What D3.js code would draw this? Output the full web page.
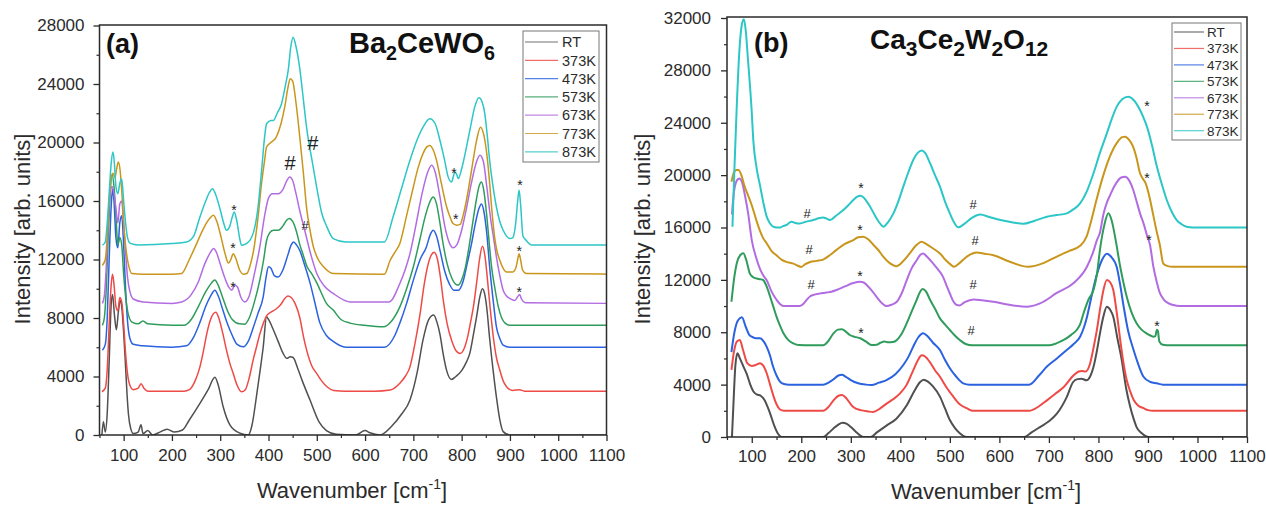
<!DOCTYPE html>
<html><head><meta charset="utf-8">
<script src="https://cdn.jsdelivr.net/npm/d3@7"></script>
<style>
body{margin:0;background:#fff}
svg{display:block}
text{font-family:"Liberation Sans",Arial,Helvetica,sans-serif}
</style>
</head><body>
<svg id="chart" width="1266" height="505"></svg>
<script>
// ---------- shared labels / ticks ----------
const seriesNames = ["RT","373K","473K","573K","673K","773K","873K"];
const seriesColors = ["#505050","#ee4a46","#2a62e0","#2f9c5c","#b26ce2","#c9961c","#2cc6c6"];
const xTicks = [100,200,300,400,500,600,700,800,900,1000,1100];
const xMinor = [50,150,250,350,450,550,650,750,850,950,1050];
const yTicksA = [0,4000,8000,12000,16000,20000,24000,28000];
const yMinorA = [2000,6000,10000,14000,18000,22000,26000];
const yTicksB = [0,4000,8000,12000,16000,20000,24000,28000,32000];
const yMinorB = [2000,6000,10000,14000,18000,22000,26000,30000];

// ---------- panel (a) Ba2CeWO6 : [wavenumber, intensity] ----------
const aRT = [[55,0],[58,900],[62,200],[66,1500],[70,5000],[74,8800],[77,9600],[81,8200],[85,7200],[89,8400],[93,9200],[96,8800],[100,7000],[103,5300],[107,2800],[110,1400],[115,400],[120,100],[130,200],[136,700],[140,100],[150,300],[160,0],[175,200],[190,400],[205,200],[222,340],[236,1025],[258,2160],[275,3100],[289,3950],[296,3400],[306,1950],[320,700],[341,120],[358,0],[366,700],[375,2620],[383,4500],[389,6000],[396,8080],[400,7900],[410,7200],[420,6400],[430,5600],[438,5240],[445,5350],[451,5300],[460,4600],[470,3700],[486,2390],[505,880],[520,300],[540,50],[580,0],[600,300],[610,150],[630,0],[655,600],[675,1400],[693,2390],[708,4300],[720,6500],[732,7900],[742,8200],[749,7700],[755,6900],[762,5500],[769,4400],[779,3800],[788,4000],[800,4400],[810,5000],[817,5600],[824,6800],[831,8100],[838,9500],[843,10000],[848,9600],[852,8700],[858,6600],[866,4200],[872,2600],[879,1050],[886,230],[900,0],[1100,0]];
const a373 = [[55,2960],[62,3200],[66,4500],[70,7500],[74,10200],[77,11000],[80,10300],[84,8800],[88,8500],[92,9400],[96,9100],[100,7600],[104,5600],[108,4200],[113,3400],[120,3100],[130,3200],[136,3500],[142,3200],[150,3000],[200,3000],[225,3000],[236,3100],[248,3700],[258,4660],[265,5700],[272,6900],[280,7900],[286,8300],[291,8400],[296,8100],[305,7000],[313,5800],[320,4900],[327,4200],[335,3400],[344,2950],[352,3100],[360,3900],[368,5100],[375,6000],[382,6900],[390,7700],[397,8200],[405,8400],[415,8600],[425,8900],[433,9300],[440,9500],[447,9400],[455,9000],[465,8000],[472,6800],[479,5800],[490,4700],[500,4200],[510,3700],[521,3300],[535,3050],[560,3000],[620,3000],[652,3080],[672,3540],[683,4000],[693,4660],[703,6200],[714,8300],[722,10200],[730,11600],[737,12300],[743,12500],[750,12000],[756,10800],[762,9200],[770,7600],[780,6400],[790,5700],[797,5580],[805,5900],[813,6800],[819,7800],[825,8900],[831,10400],[837,12000],[843,12900],[848,12300],[853,10800],[859,8700],[866,6600],[872,5300],[879,4440],[886,3700],[893,3300],[905,3050],[920,3100],[930,3000],[1100,3000]];
const a473 = [[56,5800],[62,6200],[66,8000],[70,12000],[74,15500],[77,16800],[80,16000],[84,13500],[88,12800],[92,14500],[96,15000],[100,13000],[104,10000],[108,7800],[113,6600],[120,6200],[140,6100],[200,6000],[230,6100],[245,6700],[258,7700],[270,8800],[280,9500],[289,9900],[296,9500],[305,8600],[315,7600],[325,6800],[335,6200],[348,6030],[358,6400],[368,7300],[378,8300],[389,9440],[395,10800],[400,11500],[405,11400],[412,10900],[420,10800],[430,11300],[440,12300],[447,13000],[452,13200],[458,13000],[465,12600],[475,11600],[486,10400],[495,9200],[506,7700],[520,6800],[534,6400],[560,6000],[640,6000],[660,6700],[672,7650],[686,9000],[700,10590],[714,12000],[727,12860],[735,13700],[741,14000],[748,13600],[756,12500],[765,11200],[775,10300],[784,9900],[793,9900],[803,10500],[812,11800],[820,13000],[828,14400],[836,15500],[841,15800],[846,15300],[852,13800],[858,11500],[866,9000],[872,7400],[879,6600],[886,6150],[900,6000],[1100,6000]];
const a573 = [[56,7500],[60,8000],[64,10000],[68,13500],[72,16500],[76,17800],[80,17000],[84,15000],[88,13000],[92,13500],[96,13000],[100,11000],[104,9500],[110,8200],[118,7700],[130,7600],[140,7800],[150,7600],[200,7500],[225,7500],[240,7900],[255,8800],[270,9800],[282,10400],[289,10600],[295,10300],[305,9400],[315,8500],[325,7900],[340,7600],[351,7580],[360,8000],[370,9000],[382,10590],[390,12000],[396,13300],[402,13800],[410,14000],[420,14000],[430,14300],[438,14700],[443,14800],[450,14600],[458,13900],[465,13000],[472,12300],[480,11500],[490,11000],[500,10400],[507,9900],[520,9000],[534,8540],[550,7900],[569,7650],[600,7500],[638,7400],[655,7800],[672,8760],[686,10000],[700,11500],[713,13300],[725,15000],[735,16000],[741,16270],[748,15800],[755,14500],[762,13000],[770,11700],[780,10700],[788,10300],[793,10250],[800,10600],[808,11500],[815,12800],[822,14300],[830,16000],[836,17000],[841,17300],[846,16700],[852,15000],[858,12800],[862,11500],[869,10000],[876,8760],[883,8000],[890,7650],[900,7500],[1100,7500]];
const a673 = [[56,9000],[60,9500],[64,11500],[68,14500],[72,16500],[76,17000],[80,16500],[84,15500],[88,14500],[92,15800],[96,16000],[100,14500],[104,12500],[108,10800],[113,9800],[120,9300],[140,9100],[200,9000],[220,9100],[240,9600],[255,10500],[268,11700],[280,12500],[286,12750],[292,12500],[300,11700],[310,10700],[318,10100],[324,9900],[330,10250],[336,10100],[343,9400],[351,9100],[360,9500],[370,10900],[382,12860],[392,15000],[400,16200],[408,16500],[420,16500],[430,16800],[438,17400],[444,17640],[450,17400],[457,16500],[465,15300],[475,14000],[488,12300],[500,11040],[515,10200],[534,9680],[569,9100],[650,9100],[672,10360],[683,11300],[693,12400],[705,14300],[718,16500],[730,18000],[738,18440],[745,18000],[755,16300],[765,14300],[775,13100],[782,12800],[790,13000],[800,14000],[810,15500],[820,17200],[830,18600],[838,19120],[845,18700],[852,17000],[860,14800],[866,13500],[872,12180],[879,10900],[886,9900],[893,9500],[900,9330],[910,9200],[916,9450],[920,9600],[924,9300],[932,9050],[1100,9000]];
const a773 = [[56,11600],[62,12000],[66,13500],[70,16000],[74,17500],[78,17900],[82,17600],[86,18300],[89,18660],[93,18000],[97,16200],[101,14000],[106,12400],[111,11500],[117,11040],[140,11000],[200,11000],[220,11050],[236,12000],[250,13000],[265,14100],[278,14800],[286,15020],[293,14600],[302,13500],[310,12400],[317,11760],[322,12000],[327,12400],[332,12100],[340,11300],[348,11000],[355,11040],[362,11600],[370,12800],[378,14800],[386,17300],[392,18800],[396,19690],[405,20000],[416,20370],[426,21300],[434,22500],[440,23700],[445,24360],[450,24200],[457,22700],[465,20300],[472,18000],[479,15500],[486,14000],[493,12860],[503,12000],[514,11500],[534,11040],[640,11000],[652,11950],[662,12500],[672,13100],[686,15000],[700,16960],[710,18300],[720,19240],[728,19700],[734,19800],[741,19500],[748,18780],[758,17200],[769,15590],[776,14900],[782,14460],[790,14350],[797,14400],[803,15000],[810,16050],[820,18000],[831,20150],[839,21050],[846,20500],[852,19240],[857,17600],[862,15590],[868,13600],[873,12600],[879,11950],[886,11400],[893,11150],[906,11150],[912,11400],[916,12000],[919,12400],[922,12000],[926,11300],[934,11040],[1100,11000]];
const a873 = [[56,12980],[62,13200],[66,14500],[70,16500],[74,18500],[78,19350],[81,18500],[84,17000],[88,16500],[92,17200],[96,17500],[100,16000],[104,14500],[108,13500],[114,13100],[130,13000],[200,13100],[230,13200],[245,13600],[258,14910],[270,16000],[278,16600],[284,16840],[290,16500],[300,15400],[308,14400],[313,14000],[320,14300],[325,14900],[329,15250],[334,14700],[340,13500],[344,12980],[355,13100],[368,13770],[378,15500],[386,18200],[392,20400],[396,21280],[405,21500],[410,21500],[418,22000],[427,22650],[435,23900],[441,24980],[446,26500],[451,27200],[456,26700],[465,25000],[472,23000],[479,21000],[490,18800],[500,16900],[510,15200],[521,14230],[534,13430],[560,13200],[640,13200],[658,14910],[675,16800],[693,18780],[708,20200],[720,21050],[734,21630],[745,21300],[755,20150],[764,18900],[772,17650],[779,17300],[783,17700],[786,17990],[790,17800],[793,17530],[800,18200],[810,19690],[818,21000],[827,22420],[836,23060],[842,22800],[848,21960],[853,20500],[858,18780],[865,17000],[872,15590],[879,14600],[886,14000],[893,13600],[900,13430],[906,13500],[912,14500],[916,16000],[919,16730],[922,15800],[927,13600],[934,13300],[945,13000],[1100,13000]];

// ---------- panel (b) Ca3Ce2W2O12 ----------
const bRT = [[60,0],[63,2500],[67,5500],[71,6390],[76,6000],[83,5400],[90,4800],[97,4000],[103,3500],[110,3250],[118,3150],[126,2800],[132,2300],[137,1810],[145,900],[153,250],[160,0],[244,0],[255,300],[265,650],[275,950],[283,1090],[292,1000],[302,700],[313,300],[325,0],[340,0],[352,330],[372,870],[392,1400],[413,2420],[428,3500],[440,4200],[447,4380],[455,4250],[465,3900],[480,3080],[490,2200],[500,1300],[510,700],[520,290],[534,0],[650,0],[665,350],[682,760],[700,1200],[716,1780],[736,3050],[749,4200],[758,4420],[766,4450],[776,4330],[783,4600],[790,5340],[797,6600],[803,7890],[810,9200],[817,9950],[824,9700],[830,9190],[838,7600],[847,5890],[856,3700],[864,2330],[871,1400],[877,760],[887,300],[897,50],[905,0],[1100,0]];
const b373 = [[59,5120],[64,6500],[70,7300],[76,7410],[82,6700],[91,5640],[100,5420],[108,5500],[117,5640],[124,5400],[130,4890],[137,4000],[144,3100],[150,2500],[157,2100],[165,2000],[244,2000],[255,2300],[265,2800],[275,3150],[282,3210],[290,3000],[298,2600],[305,2290],[320,2050],[335,1950],[345,1910],[358,2150],[372,2550],[386,2900],[399,3310],[413,4000],[426,5090],[436,5900],[443,6240],[450,6150],[460,5700],[470,5100],[480,4600],[493,3800],[507,3080],[520,2500],[534,2200],[545,2000],[660,2000],[680,2350],[696,2800],[713,3300],[730,3820],[750,4710],[760,5000],[766,5050],[774,5000],[783,5600],[790,6800],[797,8200],[804,9930],[810,11200],[817,11990],[824,11800],[830,11230],[837,9500],[844,7410],[850,5800],[857,4370],[864,3500],[871,2850],[880,2400],[891,2200],[900,2050],[910,2000],[1100,2000]];
const b473 = [[59,6490],[65,8000],[72,8900],[80,9140],[88,8400],[95,7800],[100,7660],[108,7550],[117,7540],[124,7300],[130,6900],[137,6200],[143,5380],[150,4700],[157,4230],[165,4050],[175,4000],[244,4000],[255,4150],[265,4400],[275,4700],[282,4750],[290,4600],[300,4350],[315,4100],[330,4000],[342,3970],[357,4150],[372,4350],[390,4800],[406,5500],[416,6100],[426,6900],[436,7600],[446,7920],[455,7700],[466,7200],[480,6640],[490,5900],[500,5250],[513,4600],[527,4100],[540,4000],[660,4000],[680,4700],[696,5380],[716,6000],[736,6640],[750,7100],[763,7660],[771,8400],[777,9190],[787,10900],[797,12440],[807,13500],[817,14000],[827,13700],[837,12990],[844,11600],[851,9950],[860,8100],[871,6640],[880,5600],[891,4600],[905,4200],[918,4100],[930,4000],[1100,4000]];
const b573 = [[59,10330],[64,12000],[70,13300],[77,13900],[83,14030],[89,13500],[96,12500],[103,12200],[110,12100],[117,12050],[123,11990],[130,11500],[137,10730],[144,9900],[150,9190],[157,8500],[164,7920],[174,7400],[184,7150],[195,7020],[220,7000],[244,7000],[255,7350],[265,7920],[274,8200],[282,8230],[290,8050],[298,7790],[308,7650],[319,7540],[330,7300],[342,7030],[352,7050],[360,7200],[368,7300],[375,7230],[385,7250],[393,7410],[403,7900],[413,8690],[423,9600],[433,10480],[440,11100],[445,11300],[452,11100],[460,10480],[470,9800],[480,9060],[490,8600],[500,8170],[510,7750],[520,7410],[532,7100],[545,7000],[700,7000],[715,7150],[730,7410],[745,7800],[756,8170],[763,8600],[770,9450],[780,10500],[790,11230],[797,12440],[804,14540],[812,16200],[820,17080],[827,16500],[835,15000],[844,13000],[851,11700],[857,10730],[867,9500],[877,8690],[887,8200],[897,7920],[905,7750],[911,7660],[915,7700],[918,8200],[920,8100],[923,7300],[930,7050],[945,7000],[1100,7000]];
const b673 = [[60,17000],[64,18700],[70,19600],[75,19750],[80,19500],[86,18500],[93,17000],[100,15040],[108,13800],[117,12800],[124,12300],[130,11990],[140,11100],[150,10480],[157,10150],[164,10000],[197,10000],[205,10200],[211,10480],[218,10750],[224,10840],[237,10950],[251,11030],[261,11100],[271,11230],[288,11500],[305,11760],[319,11860],[326,11800],[332,11610],[342,11200],[352,10710],[362,10250],[372,10000],[382,10100],[393,10330],[403,11000],[413,11990],[423,12900],[433,13500],[440,13900],[446,14020],[453,13800],[466,13260],[476,12800],[486,12250],[494,11500],[500,10960],[508,10300],[514,10080],[520,10050],[530,10300],[548,10510],[565,10450],[588,10330],[620,10100],[655,9950],[682,10200],[716,11000],[750,11760],[777,13020],[790,14200],[797,15040],[803,15600],[810,17000],[817,17900],[823,18420],[833,19200],[845,19800],[854,19880],[862,19600],[870,18900],[877,18000],[884,17080],[892,16200],[898,15400],[904,14700],[911,13000],[918,11800],[924,11000],[932,10500],[940,10250],[951,10080],[965,10000],[1100,10000]];
const b773 = [[59,19500],[64,20200],[69,20390],[73,20390],[79,20000],[85,19200],[90,18700],[100,17700],[110,16470],[117,15700],[123,15190],[130,14800],[140,14200],[150,13880],[160,13550],[170,13370],[184,13240],[192,13100],[200,12990],[208,13200],[218,13370],[231,13450],[244,13550],[258,13900],[271,14290],[288,14750],[305,15040],[315,15250],[325,15300],[335,15100],[345,14700],[355,14300],[365,13800],[378,13300],[392,13050],[405,13400],[419,14020],[431,14600],[443,14920],[452,14750],[466,14400],[480,14020],[492,13500],[503,13130],[508,13000],[520,13300],[535,13800],[554,14100],[570,14000],[588,13880],[620,13400],[658,13000],[690,13300],[716,13780],[740,14200],[763,14600],[776,15300],[786,16600],[796,18100],[810,20000],[823,21410],[838,22500],[848,22900],[854,22940],[862,22700],[870,22170],[877,21300],[884,20140],[890,19700],[895,19400],[902,18500],[910,17080],[917,15800],[924,14660],[931,13240],[940,13050],[950,13000],[1100,13000]];
const b873 = [[61,16060],[65,20500],[70,25540],[75,29500],[80,31500],[84,31900],[88,31000],[92,29000],[96,27030],[100,24800],[103,22710],[110,20500],[117,19140],[124,17800],[130,16850],[137,16300],[143,16060],[150,16000],[157,16000],[163,16100],[170,16190],[180,16440],[188,16350],[197,16310],[210,16450],[224,16570],[235,16700],[244,16770],[250,16700],[258,16570],[270,16900],[285,17330],[295,17700],[305,18100],[313,18350],[320,18430],[328,18200],[339,17590],[349,16900],[359,16310],[366,16060],[375,16400],[386,17080],[396,18000],[406,19120],[416,20200],[426,21160],[435,21700],[443,21880],[450,21700],[460,20910],[470,20000],[480,19120],[490,18000],[500,17080],[507,16500],[517,16010],[530,16300],[545,16750],[561,17000],[580,16800],[602,16570],[625,16400],[648,16280],[670,16500],[696,16820],[716,16950],[736,17080],[750,17400],[763,17840],[777,18800],[790,20140],[803,21700],[817,23190],[827,24300],[837,25230],[848,25800],[860,25990],[872,25700],[884,24970],[891,24400],[898,23700],[908,22300],[918,20650],[928,19300],[938,18100],[948,17200],[958,16570],[968,16250],[978,16060],[990,16000],[1100,16000]];

// ---------- band markers: [wavenumber, intensity, symbol, font size] ----------
const marksA = [[328.5,15024,"*",14],[326.5,12429,"*",14],[326.5,9765,"*",14],[784,17550,"*",14],[788,14409,"*",14],[921,16731,"*",14],[919,12224,"*",14],[919,9424,"*",14],[444.5,18097,"#",20],[492,19463,"#",20],[475.6,14034,"#",13]];
const marksB = [[320.6,18634,"*",14],[318.6,15427,"*",14],[318.6,11914,"*",14],[320.6,7561,"*",14],[898,24897,"*",14],[898,19398,"*",14],[902,14663,"*",14],[918.4,8095,"*",14],[211.6,16763,"#",13],[215.6,14014,"#",13],[219.6,11341,"#",13],[546.8,17451,"#",13],[550.8,14701,"#",13],[546.8,11265,"#",13],[542.7,7828,"#",13]];

const titleA = [["Ba",0],["2",1],["CeWO",0],["6",1]];
const titleB = [["Ca",0],["3",1],["Ce",0],["2",1],["W",0],["2",1],["O",0],["12",1]];

// ---------- drawing ----------
const svg = d3.select("#chart");
svg.append("rect").attr("width",1266).attr("height",505).attr("fill","#fff");
const defs = svg.append("defs");

function drawPanel(p){
  const x = d3.scaleLinear().domain([50,1100]).range([p.left,p.right]);
  const y = d3.scaleLinear().domain([0,p.yMax]).range([p.bottom,p.yTop]);
  const g = svg.append("g");
  defs.append("clipPath").attr("id","clip"+p.id).append("rect")
    .attr("x",p.left).attr("y",p.frameTop).attr("width",p.right-p.left).attr("height",p.bottom-p.frameTop);

  const line = d3.line().x(d=>x(d[0])).y(d=>y(d[1])).curve(d3.curveMonotoneX);
  const lg = g.append("g").attr("clip-path","url(#clip"+p.id+")");
  p.series.forEach((s,i)=>{
    lg.append("path").attr("d",line(s)).attr("fill","none")
      .attr("stroke",seriesColors[i]).attr("stroke-width",p.lw).attr("stroke-linejoin","round");
  });

  // axes
  const ax = g.append("g").attr("transform",`translate(0,${p.bottom})`).attr("color","#2b2b2b")
    .call(d3.axisBottom(x).tickValues(xTicks).tickSize(6).tickSizeOuter(0).tickPadding(p.xPad).tickFormat(d3.format("d")));
  ax.select(".domain").remove();
  ax.selectAll("text").attr("font-size",17).attr("fill","#2b2b2b");
  ax.selectAll("line").attr("stroke-width",1.3);
  const axm = g.append("g").attr("transform",`translate(0,${p.bottom})`).attr("color","#2b2b2b")
    .call(d3.axisBottom(x).tickValues(xMinor).tickSize(3).tickSizeOuter(0).tickFormat(""));
  axm.select(".domain").remove();
  axm.selectAll("line").attr("stroke-width",1.2);

  const ay = g.append("g").attr("transform",`translate(${p.left},0)`).attr("color","#2b2b2b")
    .call(d3.axisLeft(y).tickValues(p.yTicks).tickSize(6).tickSizeOuter(0).tickPadding(p.yPad).tickFormat(d3.format("d")));
  ay.select(".domain").remove();
  ay.selectAll("text").attr("font-size",17).attr("fill","#2b2b2b");
  ay.selectAll("line").attr("stroke-width",1.3);
  const aym = g.append("g").attr("transform",`translate(${p.left},0)`).attr("color","#2b2b2b")
    .call(d3.axisLeft(y).tickValues(p.yMinor).tickSize(3).tickSizeOuter(0).tickFormat(""));
  aym.select(".domain").remove();
  aym.selectAll("line").attr("stroke-width",1.2);

  // frame
  g.append("rect").attr("x",p.left).attr("y",p.frameTop).attr("width",p.right-p.left)
    .attr("height",p.bottom-p.frameTop).attr("fill","none").attr("stroke","#2b2b2b").attr("stroke-width",1.5);

  // axis titles
  const xt = g.append("text").attr("x",p.xLabX).attr("y",p.xLabY).attr("text-anchor","middle")
    .attr("font-size",22).attr("fill","#2b2b2b");
  xt.append("tspan").text("Wavenumber [cm");
  xt.append("tspan").attr("font-size",14).attr("dy",-9).text("-1");
  xt.append("tspan").attr("dy",9).text("]");
  g.append("text").attr("transform",`translate(${p.yLabX},${p.yLabY}) rotate(-90)`)
    .attr("text-anchor","middle").attr("font-size",22).attr("fill","#2b2b2b").text("Intensity [arb. units]");

  // panel letter & compound title
  g.append("text").attr("x",p.letterX).attr("y",p.letterY).attr("font-size",27).attr("font-weight","bold")
    .attr("fill","#111").text(p.letter);
  const tt = g.append("text").attr("x",p.titleX).attr("y",p.titleY).attr("font-size",p.titleFs)
    .attr("font-weight","bold").attr("fill","#111");
  let sub = false;
  p.title.forEach(([t,s])=>{
    const sp = tt.append("tspan").text(t);
    if(s && !sub){ sp.attr("dy",p.subDy).attr("font-size",p.titleFs*p.subScale); sub=true; }
    else if(s && sub){ sp.attr("font-size",p.titleFs*p.subScale); }
    else if(!s && sub){ sp.attr("dy",-p.subDy); sub=false; }
  });

  // markers
  p.marks.forEach(m=>{
    g.append("text").attr("x",x(m[0])).attr("y",y(m[1])).attr("text-anchor","middle")
      .attr("font-size",m[3]).attr("fill","#222").text(m[2]);
  });

  // legend
  const L = p.legend;
  const leg = g.append("g");
  leg.append("rect").attr("x",L.x).attr("y",L.y).attr("width",L.w).attr("height",L.h)
    .attr("fill","#fff").attr("stroke","#777").attr("stroke-width",1);
  seriesNames.forEach((n,i)=>{
    const yy = L.y0 + i*L.dy;
    leg.append("line").attr("x1",L.l1).attr("x2",L.l2).attr("y1",yy).attr("y2",yy)
      .attr("stroke",seriesColors[i]).attr("stroke-width",1.2).attr("opacity",0.8);
    leg.append("text").attr("x",L.tx).attr("y",yy).attr("dy","0.36em").attr("font-size",L.fs)
      .attr("fill","#2b2b2b").text(n);
  });
}

drawPanel({id:"a", left:99.5, right:606.5, bottom:435, yTop:25.5, frameTop:25, yMax:28000,
  yTicks:yTicksA, yMinor:yMinorA, xPad:8, yPad:9, lw:1.5,
  series:[aRT,a373,a473,a573,a673,a773,a873], marks:marksA,
  xLabX:352, xLabY:498, yLabX:30, yLabY:229,
  letter:"(a)", letterX:106, letterY:53, title:titleA, titleX:349, titleY:53, titleFs:29, subScale:0.68, subDy:7,
  legend:{x:523,y:31,w:76,h:131,y0:42,dy:18.3,l1:525,l2:558,tx:562,fs:14.5}});

drawPanel({id:"b", left:727, right:1247, bottom:437, yTop:18, frameTop:17, yMax:32000,
  yTicks:yTicksB, yMinor:yMinorB, xPad:7, yPad:10, lw:2,
  series:[bRT,b373,b473,b573,b673,b773,b873], marks:marksB,
  xLabX:986, xLabY:499, yLabX:650, yLabY:229,
  letter:"(b)", letterX:754, letterY:52, title:titleB, titleX:870, titleY:49, titleFs:28, subScale:0.75, subDy:7,
  legend:{x:1172,y:23,w:69,h:117,y0:32,dy:16.45,l1:1174,l2:1204,tx:1207,fs:13.5}});
</script>
</body></html>
